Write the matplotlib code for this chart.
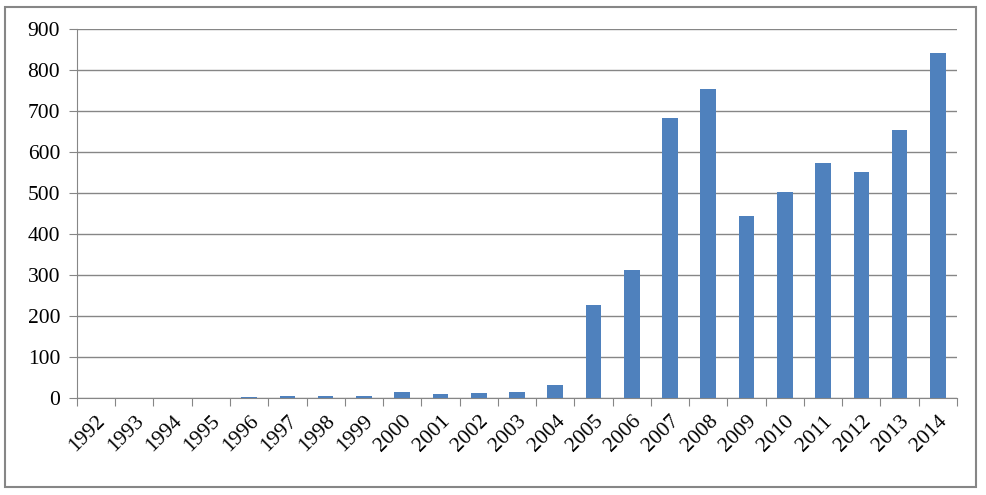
import matplotlib.pyplot as plt
import numpy as np

years = [str(y) for y in range(1992, 2015)]
values = [0, 0, 0, 0, 3, 6, 6, 6, 15, 10, 13, 15, 32,
          228, 313, 683, 754, 445, 503, 574, 552, 654, 842]
yticks = [0, 100, 200, 300, 400, 500, 600, 700, 800, 900]

plt.rcParams['font.family'] = ['Liberation Serif', 'DejaVu Serif']

fig = plt.figure(figsize=(9.86, 4.95), dpi=100)
ax = fig.add_axes([0.078, 0.196, 0.8926, 0.7454])

x = np.arange(len(years))
ax.bar(x, values, width=0.41, color='#4F81BD', zorder=3)

ax.set_xlim(-0.5, len(years) - 0.5)
ax.set_ylim(0, 900)
ax.set_yticks(yticks)
ax.yaxis.grid(True, color='#868686', linewidth=1, zorder=0)

ax.set_xticks(np.arange(-0.5, len(years), 1))
ax.set_xticklabels([])
ax.set_xticks(x, minor=True)
ax.set_xticklabels(years, minor=True, rotation=45, ha='right',
                   rotation_mode='anchor', fontsize=15.5)
ax.tick_params(axis='x', which='minor', length=0, pad=10)
ax.tick_params(axis='x', which='major', length=6, color='#868686', direction='out')
ax.tick_params(axis='y', length=6, color='#868686', labelsize=15.5, pad=6)

for s in ['top', 'right']:
    ax.spines[s].set_visible(False)
for s in ['left', 'bottom']:
    ax.spines[s].set_color('#868686')

# outer frame
fig.patches.append(plt.Rectangle((0.005, 0.016), 0.985, 0.969, transform=fig.transFigure,
                                 fill=False, edgecolor='#868686', linewidth=1.5))

fig.savefig('out.png', dpi=100)
